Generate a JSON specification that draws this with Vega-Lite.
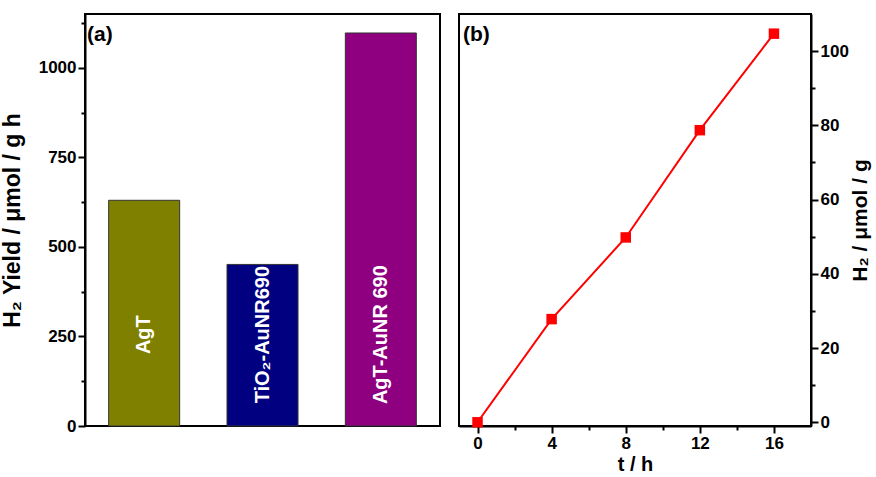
{
  "$schema": "https://vega.github.io/schema/vega-lite/v6.json",
  "padding": {"left": 0, "top": 13, "right": 0, "bottom": 0},
  "background": "white",
  "spacing": 17,
  "datasets": {
    "bars": [
      {"cat": "AgT", "label": "AgT", "yield": 630},
      {"cat": "TiO2-AuNR690", "label": "TiO₂-AuNR690", "yield": 451},
      {"cat": "AgT-AuNR 690", "label": "AgT-AuNR 690", "yield": 1097}
    ],
    "kinetics": [
      {"t": 0, "h2": 0},
      {"t": 4, "h2": 27.8},
      {"t": 8, "h2": 49.8},
      {"t": 12, "h2": 78.7},
      {"t": 16, "h2": 104.7}
    ]
  },
  "hconcat": [
    {
      "width": 355,
      "height": 412,
      "title": {"text": "(a)", "anchor": "start", "frame": "group", "offset": -31, "dx": 2, "fontSize": 21, "font": "Liberation Sans", "fontWeight": "bold", "color": "black"},
      "data": {"name": "bars"},
      "layer": [
        {
          "mark": {"type": "bar", "stroke": "#333333", "strokeWidth": 1},
          "encoding": {
            "x": {"field": "cat", "type": "nominal", "sort": null,
                  "scale": {"paddingInner": 0.4, "paddingOuter": 0.2},
                  "axis": {"labels": false, "ticks": false, "title": "Photocatalyst", "titlePadding": 20}},
            "y": {"field": "yield", "type": "quantitative",
                  "scale": {"domain": [0, 1150], "nice": false},
                  "axis": {"orient": "left", "values": [0, 250, 500, 750, 1000], "format": "d", "title": "H₂ Yield / μmol / g h", "titlePadding": 14}},
            "color": {"field": "cat", "type": "nominal", "sort": null,
                      "scale": {"domain": ["AgT", "TiO2-AuNR690", "AgT-AuNR 690"], "range": ["#808000", "#000080", "#8E0080"]},
                      "legend": null}
          }
        },
        {
          "mark": {"type": "text", "angle": 270, "align": "center", "baseline": "middle", "color": "white", "fontSize": 20, "font": "Liberation Sans", "fontWeight": "bold"},
          "encoding": {
            "x": {"field": "cat", "type": "nominal", "sort": null, "axis": null},
            "y": {"datum": 255, "type": "quantitative",
                  "axis": {"orient": "left", "values": [125, 375, 625, 875, 1125], "labels": false, "title": null, "domain": false, "tickSize": 4}},
            "text": {"field": "label"}
          }
        }
      ],
      "resolve": {"scale": {"y": "shared"}, "axis": {"y": "independent"}}
    },
    {
      "width": 352,
      "height": 412,
      "title": {"text": "(b)", "anchor": "start", "frame": "group", "offset": -31, "dx": 4, "fontSize": 21, "font": "Liberation Sans", "fontWeight": "bold", "color": "black"},
      "data": {"name": "kinetics"},
      "layer": [
        {
          "mark": {"type": "line", "color": "#FF0000", "strokeWidth": 2},
          "encoding": {
            "x": {"field": "t", "type": "quantitative",
                  "scale": {"domain": [-1, 18], "nice": false},
                  "axis": {"orient": "bottom", "values": [0, 4, 8, 12, 16], "title": "t / h", "titleFontSize": 20, "titlePadding": 3}},
            "y": {"field": "h2", "type": "quantitative",
                  "scale": {"domain": [-1, 110], "nice": false},
                  "axis": {"orient": "right", "values": [0, 20, 40, 60, 80, 100], "title": "H₂ / μmol / g", "titleFontSize": 21, "titleAngle": 270, "titleBaseline": "top", "titlePadding": 1}}
          }
        },
        {
          "mark": {"type": "square", "color": "#FF0000", "opacity": 1, "size": 110},
          "encoding": {
            "x": {"field": "t", "type": "quantitative",
                  "axis": {"orient": "bottom", "values": [2, 6, 10, 14], "labels": false, "title": null, "domain": false, "tickSize": 4}},
            "y": {"field": "h2", "type": "quantitative",
                  "axis": {"orient": "right", "values": [10, 30, 50, 70, 90], "labels": false, "title": null, "domain": false, "tickSize": 4}}
          }
        }
      ],
      "resolve": {"scale": {"x": "shared", "y": "shared"}, "axis": {"x": "independent", "y": "independent"}}
    }
  ],
  "config": {
    "view": {"stroke": "black", "strokeWidth": 2},
    "axis": {
      "grid": false,
      "domainColor": "black",
      "domainWidth": 2,
      "tickColor": "black",
      "tickWidth": 2,
      "tickSize": 7,
      "labelFont": "Liberation Sans",
      "labelFontWeight": "bold",
      "labelFontSize": 17,
      "labelColor": "black",
      "labelPadding": 2,
      "titleFont": "Liberation Sans",
      "titleFontWeight": "bold",
      "titleFontSize": 23,
      "titleColor": "black"
    }
  }
}
